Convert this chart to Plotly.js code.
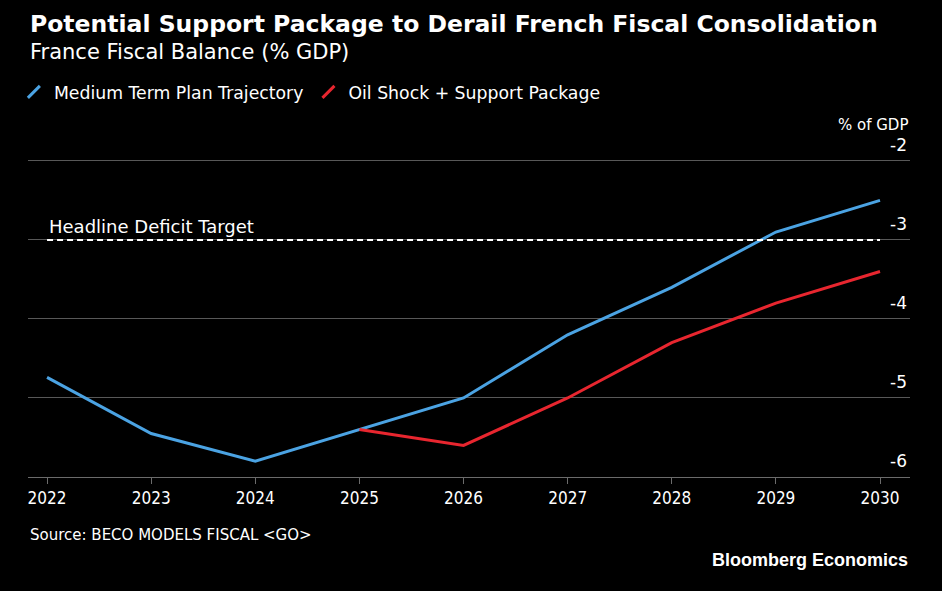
<!DOCTYPE html>
<html>
<head>
<meta charset="utf-8">
<script src="https://cdn.plot.ly/plotly-3.0.1.min.js"></script>
<style>
  html, body { margin: 0; padding: 0; background: #000; }
  #chart { width: 942px; height: 591px; }
</style>
</head>
<body>
<div id="chart"></div>
<script>
// France fiscal balance, % of GDP
const years = [2022, 2023, 2024, 2025, 2026, 2027, 2028, 2029, 2030];
const mediumTermPlan = [-4.74, -5.45, -5.8, -5.4, -5.0, -4.2, -3.6, -2.9, -2.5];
const oilShockYears = [2025, 2026, 2027, 2028, 2029, 2030];
const oilShockSupport = [-5.4, -5.6, -5.0, -4.3, -3.8, -3.4];
const deficitTarget = -3;
const yTicks = [-6, -5, -4, -3, -2];
const yTickText = ['-6', '-5', '-4', '-3', '-2'];

const BLUE = '#4ba3e3';
const RED = '#e8262f';
const SANS = '"DejaVu Sans", sans-serif';
const COND = '"DejaVu Sans Condensed", "DejaVu Sans", sans-serif';

const traces = [
  { x: years, y: mediumTermPlan, mode: 'lines', line: { color: BLUE, width: 3 },
    showlegend: false, hoverinfo: 'skip' },
  { x: oilShockYears, y: oilShockSupport, mode: 'lines', line: { color: RED, width: 3 },
    showlegend: false, hoverinfo: 'skip' },
  // legend entries with a slanted stroke as the key
  { x: [null], y: [null], mode: 'markers', name: 'Medium Term Plan Trajectory',
    marker: { symbol: 'line-ne-open', size: 12, color: BLUE, line: { color: BLUE, width: 3 } } },
  { x: [null], y: [null], mode: 'markers', name: 'Oil Shock + Support Package',
    marker: { symbol: 'line-ne-open', size: 12, color: RED, line: { color: RED, width: 3 } } }
];

const layout = {
  width: 942, height: 591,
  paper_bgcolor: '#000', plot_bgcolor: '#000',
  margin: { l: 28, r: 32, t: 153, b: 114 },
  font: { family: SANS, color: '#ffffff', size: 17 },
  showlegend: true,
  legend: { orientation: 'h', x: -0.016, xanchor: 'left', y: 1.188, yanchor: 'middle',
            font: { family: SANS, size: 17.3, color: '#ffffff' }, bgcolor: 'rgba(0,0,0,0)',
            itemclick: false, itemdoubleclick: false },
  xaxis: {
    range: [2021.817, 2030.288], tickvals: years, ticktext: years.map(String),
    showgrid: false, zeroline: false, showline: true, linecolor: '#6b6b6b', linewidth: 1,
    ticks: 'outside', ticklen: 6, tickcolor: '#6b6b6b', tickwidth: 1,
    tickfont: { family: COND, size: 17, color: '#ffffff' }, fixedrange: true
  },
  yaxis: {
    range: [-6, -1.9], tickvals: yTicks, ticktext: yTickText,
    side: 'right', ticklabelposition: 'outside', ticklabelstandoff: -21, ticklabelshift: -16,
    showgrid: true, gridcolor: '#585858', gridwidth: 1, zeroline: false, showline: false,
    ticks: '', tickfont: { family: SANS, size: 17, color: '#ffffff' }, fixedrange: true
  },
  shapes: [
    { type: 'line', xref: 'x', yref: 'y', x0: years[0], x1: years[years.length - 1],
      y0: deficitTarget, y1: deficitTarget, line: { color: '#ffffff', width: 2, dash: '6px,4px' } }
  ],
  annotations: [
    { xref: 'paper', yref: 'paper', x: 0, y: (477 - 24) / 324, xanchor: 'left', yanchor: 'middle',
      text: '<b>Potential Support Package to Derail French Fiscal Consolidation</b>', showarrow: false,
      font: { family: SANS, size: 23.5, color: '#ffffff' } },
    { xref: 'paper', yref: 'paper', x: 0, y: (477 - 52) / 324, xanchor: 'left', yanchor: 'middle',
      text: 'France Fiscal Balance (% GDP)', showarrow: false,
      font: { family: SANS, size: 21, color: '#ffffff' } },
    { xref: 'paper', yref: 'paper', x: 1, y: (477 - 125) / 324, xanchor: 'right', yanchor: 'middle',
      text: '% of GDP', showarrow: false, font: { family: SANS, size: 15, color: '#ffffff' } },
    { xref: 'x', yref: 'y', x: years[0], y: deficitTarget, xanchor: 'left', yanchor: 'bottom', yshift: 1,
      text: 'Headline Deficit Target', showarrow: false,
      font: { family: SANS, size: 18, color: '#ffffff' } },
    { xref: 'paper', yref: 'paper', x: 0, y: (477 - 535) / 324, xanchor: 'left', yanchor: 'middle',
      text: 'Source: BECO MODELS FISCAL &lt;GO&gt;', showarrow: false,
      font: { family: SANS, size: 15, color: '#ffffff' } },
    { xref: 'paper', yref: 'paper', x: 1, y: (477 - 560) / 324, xanchor: 'right', yanchor: 'middle',
      text: '<b>Bloomberg Economics</b>', showarrow: false,
      font: { family: '"Liberation Sans", Arial, sans-serif', size: 18, color: '#ffffff' } }
  ]
};

Plotly.newPlot('chart', traces, layout, { displayModeBar: false, staticPlot: true });
</script>
</body>
</html>
